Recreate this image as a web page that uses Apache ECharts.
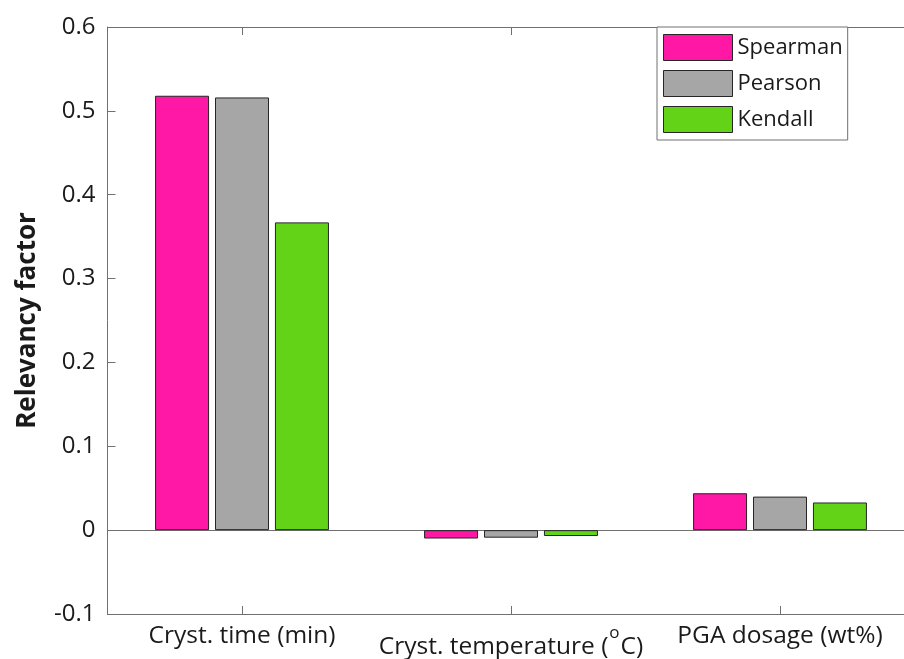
<!DOCTYPE html>
<html><head><meta charset="utf-8">
<script src="https://cdn.jsdelivr.net/npm/echarts@6/dist/echarts.min.js"></script>
<style>html,body{margin:0;padding:0;background:#fff}#c{width:904px;height:659px}</style>
</head><body><div id="c"></div>
<script>
const categories = ['Cryst. time (min)', 'Cryst. temperature (oC)', 'PGA dosage (wt%)'];
const spearman = [0.518, -0.010, 0.044];
const pearson = [0.516, -0.009, 0.040];
const kendall = [0.367, -0.007, 0.033];
const seriesNames = ['Spearman', 'Pearson', 'Kendall'];
const colors = ['#ff17a5', '#a6a6a6', '#63d318'];
const yTicks = [-0.1, 0, 0.1, 0.2, 0.3, 0.4, 0.5, 0.6];

const FONT = 'Open Sans';
const AX = '#707070';
const TXT = '#1a1a1a';
const chart = echarts.init(document.getElementById('c'));
const mk = (name, data, i) => ({
  name, type: 'bar', data, barWidth: 54, barGap: '11%', xAxisIndex: 0, yAxisIndex: 0,
  itemStyle: { color: colors[i], borderColor: '#262626', borderWidth: 1 },
  ...(i === 0 ? { markLine: { silent: true, symbol: 'none', label: { show: false },
      lineStyle: { color: AX, width: 1, type: 'solid' }, data: [{ yAxis: 0 }], z: 1 } } : {})
});
const tick = { show: true, inside: true, length: 8, interval: 0, alignWithLabel: true, lineStyle: { color: AX, width: 1 } };
chart.setOption({
  animation: false,
  textStyle: { fontFamily: FONT },
  grid: { left: 107.5, top: 27, width: 807, height: 587, containLabel: false, outerBoundsMode: 'none' },
  legend: {
    orient: 'vertical', left: 657, top: 27, itemWidth: 69, itemHeight: 26, itemGap: 9,
    icon: 'rect',
    padding: [7, 5, 7, 6], backgroundColor: '#fff', borderColor: AX, borderWidth: 1,
    textStyle: { fontFamily: FONT, fontSize: 22, color: TXT, width: 111 },
    itemStyle: { borderColor: '#262626', borderWidth: 1 },
    data: seriesNames
  },
  xAxis: [{
    type: 'category', data: categories, position: 'bottom',
    axisLine: { show: true, onZero: false, lineStyle: { color: AX } },
    axisTick: tick,
    axisLabel: {
      interval: 0, margin: 8, color: TXT,
      formatter: v => v === 'Cryst. temperature (oC)' ? '{t|Cryst. temperature (}{s|o}{t|C)}' : '{n|' + v + '}',
      rich: {
        n: { fontSize: 24.5, color: TXT, fontFamily: FONT, lineHeight: 24, padding: [4, 0, 0, 0] },
        t: { fontSize: 24.5, color: TXT, fontFamily: FONT, verticalAlign: 'bottom', lineHeight: 24 },
        s: { fontSize: 17, color: TXT, fontFamily: FONT, verticalAlign: 'top', lineHeight: 38, height: 19, padding: [2, 1, 0, 1] }
      }
    }
  }, {
    type: 'category', data: categories, position: 'top',
    axisLine: { show: true, onZero: false, lineStyle: { color: AX } },
    axisTick: tick,
    axisLabel: { show: false }
  }],
  yAxis: {
    type: 'value', min: yTicks[0], max: yTicks[yTicks.length - 1], interval: 0.1,
    name: 'Relevancy factor', nameLocation: 'middle', nameRotate: 90, nameGap: 67,
    nameTextStyle: { fontSize: 26, fontWeight: 'bold', color: TXT, fontFamily: FONT },
    axisLine: { show: true, onZero: false, lineStyle: { color: AX } },
    axisTick: { show: true, inside: true, length: 8, lineStyle: { color: AX, width: 1 } },
    splitLine: { show: false },
    axisLabel: { margin: 12, fontSize: 24, color: TXT,
      formatter: v => String(Math.round(v * 10) / 10) }
  },
  series: [mk(seriesNames[0], spearman, 0), mk(seriesNames[1], pearson, 1), mk(seriesNames[2], kendall, 2)]
});
</script></body></html>
